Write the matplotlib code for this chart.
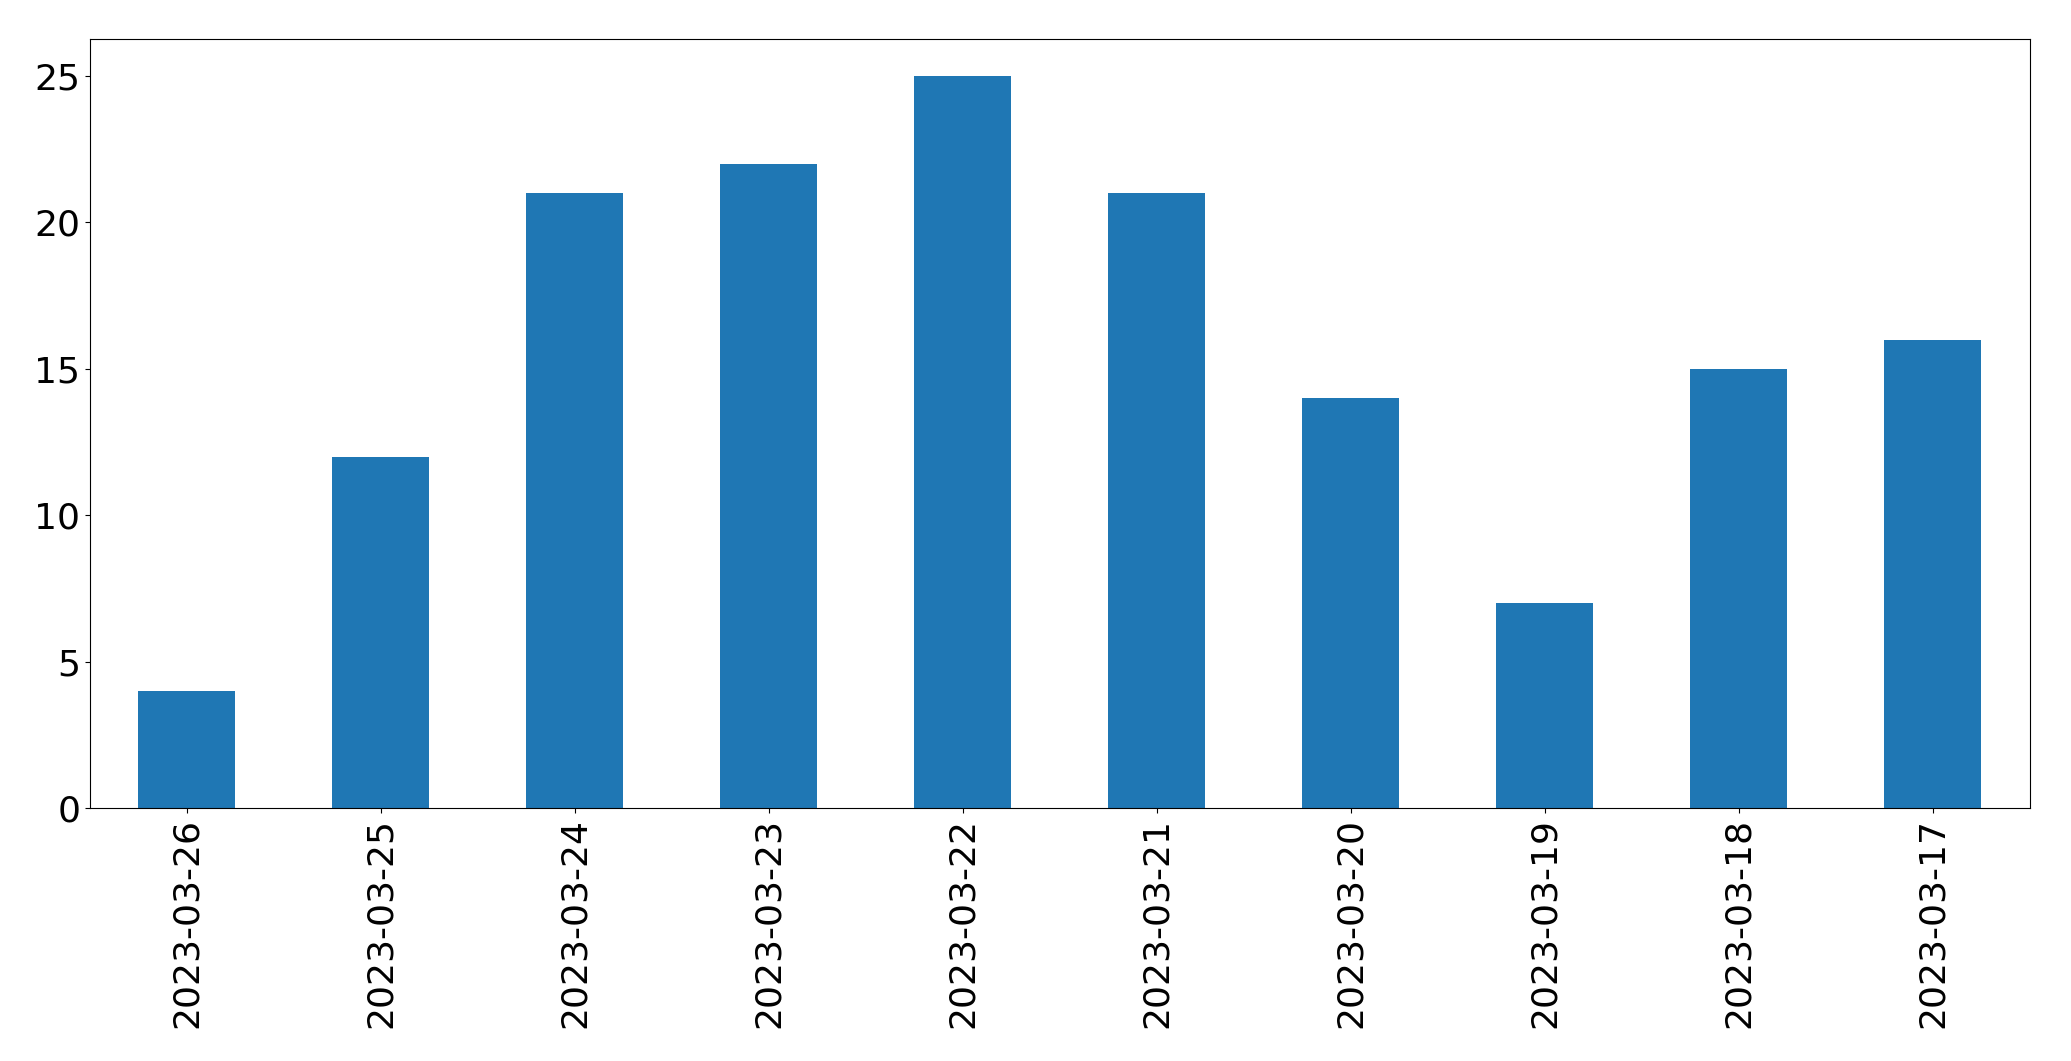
import matplotlib
matplotlib.use('Agg')
import matplotlib.pyplot as plt
import numpy as np

dates = ['2023-03-26', '2023-03-25', '2023-03-24', '2023-03-23', '2023-03-22',
         '2023-03-21', '2023-03-20', '2023-03-19', '2023-03-18', '2023-03-17']
counts = [4, 12, 21, 22, 25, 21, 14, 7, 15, 16]

fig = plt.figure(figsize=(20.71, 10.61), dpi=100)
ax = fig.add_axes([0.0434, 0.238, 0.9366, 0.725])
x = np.arange(len(dates))
ax.bar(x, counts, width=0.5, color='#1f77b4')
ax.set_xlim(-0.5, len(dates) - 0.5)
ax.set_xticks(x)
ax.set_xticklabels(dates, rotation=90)
ax.set_yticks([0, 5, 10, 15, 20, 25])
ax.tick_params(labelsize=26)
fig.savefig('out.png', dpi=100)
